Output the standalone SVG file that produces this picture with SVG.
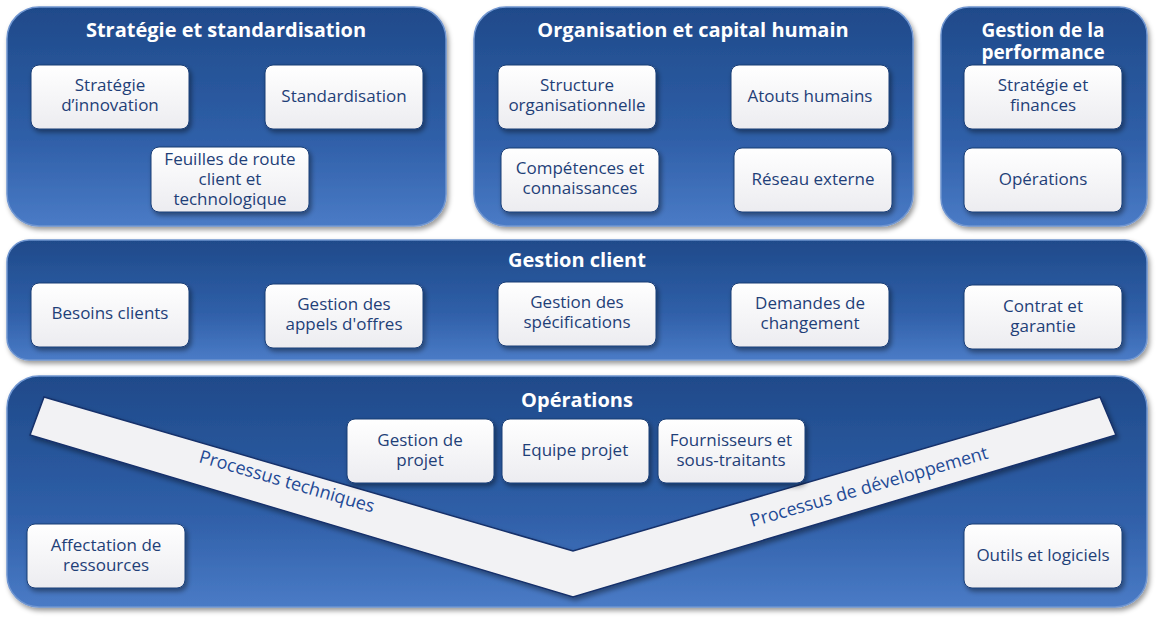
<svg xmlns="http://www.w3.org/2000/svg" width="1161" height="623" viewBox="0 0 1161 623">
<defs>
<linearGradient id="pg" x1="0" y1="0" x2="0" y2="1"><stop offset="0" stop-color="#1f4a8a"/><stop offset="0.6" stop-color="#2f5fa8"/><stop offset="1" stop-color="#4a7bc6"/></linearGradient>
<linearGradient id="bg" x1="0" y1="0" x2="0" y2="1"><stop offset="0" stop-color="#ffffff"/><stop offset="1" stop-color="#ececf0"/></linearGradient>
<filter id="sh" x="-10%" y="-10%" width="120%" height="130%"><feDropShadow dx="2" dy="3" stdDeviation="2.5" flood-color="#000" flood-opacity="0.4"/></filter>
</defs>
<style>
.p{fill:url(#pg);stroke:#6f95d0;stroke-width:1.5;filter:url(#sh)}
.b{fill:url(#bg);stroke:#1a3d75;stroke-width:1;filter:url(#sh)}
.h{font-family:"Open Sans","DejaVu Sans",sans-serif;font-weight:bold;font-size:20px;fill:#fff;text-anchor:middle}
.t{font-family:"Open Sans","DejaVu Sans",sans-serif;font-size:17px;fill:#1f3f78;text-anchor:middle}
.v{font-family:"Open Sans","DejaVu Sans",sans-serif;font-size:18px;fill:#1f4a96}
</style>
<g id="panel-strategie"><rect class="p" x="7" y="7" width="439" height="219" rx="32"/><text class="h" x="226" y="37">Stratégie et standardisation</text></g>
<g id="panel-organisation"><rect class="p" x="474" y="7" width="439" height="219" rx="32"/><text class="h" x="693" y="37">Organisation et capital humain</text></g>
<g id="panel-performance"><rect class="p" x="941" y="7" width="206" height="219" rx="28"/><text class="h" x="1043" y="37" style="font-size:19px">Gestion de la</text><text class="h" x="1043" y="59" style="font-size:19px">performance</text></g>
<g id="panel-client"><rect class="p" x="7" y="240" width="1140" height="120" rx="22"/><text class="h" x="577" y="267">Gestion client</text></g>
<g id="panel-operations"><rect class="p" x="7" y="376" width="1140" height="231" rx="32"/><text class="h" x="577" y="407">Opérations</text></g>
<g id="connectors">
<polygon points="44,397 573,551 1100,397 1116,435 573,597 30,435" fill="#f2f2f4" stroke="#16306a" stroke-width="1.5" filter="url(#sh)"/>
<text class="v" transform="translate(198,462) rotate(16.2)">Processus techniques</text>
<text class="v" transform="translate(752,527) rotate(-16.2)">Processus de développement</text>
</g>
<g id="n1"><rect class="b" x="31" y="65" width="158" height="64" rx="8"/><text class="t" x="110" y="91">Stratégie</text><text class="t" x="110" y="111">d’innovation</text></g>
<g id="n2"><rect class="b" x="265" y="65" width="158" height="64" rx="8"/><text class="t" x="344" y="102">Standardisation</text></g>
<g id="n3"><rect class="b" x="151" y="147" width="158" height="65" rx="8"/><text class="t" x="230" y="165">Feuilles de route</text><text class="t" x="230" y="185">client et</text><text class="t" x="230" y="205">technologique</text></g>
<g id="n4"><rect class="b" x="498" y="65" width="158" height="64" rx="8"/><text class="t" x="577" y="91">Structure</text><text class="t" x="577" y="111">organisationnelle</text></g>
<g id="n5"><rect class="b" x="731" y="65" width="158" height="64" rx="8"/><text class="t" x="810" y="102">Atouts humains</text></g>
<g id="n6"><rect class="b" x="501" y="148" width="158" height="64" rx="8"/><text class="t" x="580" y="174">Compétences et</text><text class="t" x="580" y="194">connaissances</text></g>
<g id="n7"><rect class="b" x="734" y="148" width="158" height="64" rx="8"/><text class="t" x="813" y="185">Réseau externe</text></g>
<g id="n8"><rect class="b" x="964" y="65" width="158" height="64" rx="8"/><text class="t" x="1043" y="91">Stratégie et</text><text class="t" x="1043" y="111">finances</text></g>
<g id="n9"><rect class="b" x="964" y="148" width="158" height="64" rx="8"/><text class="t" x="1043" y="185">Opérations</text></g>
<g id="n10"><rect class="b" x="31" y="283" width="158" height="64" rx="8"/><text class="t" x="110" y="319">Besoins clients</text></g>
<g id="n11"><rect class="b" x="265" y="284" width="158" height="64" rx="8"/><text class="t" x="344" y="310">Gestion des</text><text class="t" x="344" y="330">appels d'offres</text></g>
<g id="n12"><rect class="b" x="498" y="282" width="158" height="64" rx="8"/><text class="t" x="577" y="308">Gestion des</text><text class="t" x="577" y="328">spécifications</text></g>
<g id="n13"><rect class="b" x="731" y="283" width="158" height="64" rx="8"/><text class="t" x="810" y="309">Demandes de</text><text class="t" x="810" y="329">changement</text></g>
<g id="n14"><rect class="b" x="964" y="285" width="158" height="64" rx="8"/><text class="t" x="1043" y="312">Contrat et</text><text class="t" x="1043" y="332">garantie</text></g>
<g id="n15"><rect class="b" x="347" y="419" width="147" height="64" rx="8"/><text class="t" x="420" y="446">Gestion de</text><text class="t" x="420" y="466">projet</text></g>
<g id="n16"><rect class="b" x="502" y="419" width="147" height="64" rx="8"/><text class="t" x="575" y="456">Equipe projet</text></g>
<g id="n17"><rect class="b" x="658" y="419" width="147" height="64" rx="8"/><text class="t" x="731" y="446">Fournisseurs et</text><text class="t" x="731" y="466">sous-traitants</text></g>
<g id="n18"><rect class="b" x="27" y="524" width="158" height="64" rx="8"/><text class="t" x="106" y="551">Affectation  de</text><text class="t" x="106" y="571">ressources</text></g>
<g id="n19"><rect class="b" x="964" y="524" width="158" height="64" rx="8"/><text class="t" x="1043" y="561">Outils et logiciels</text></g>
</svg>
